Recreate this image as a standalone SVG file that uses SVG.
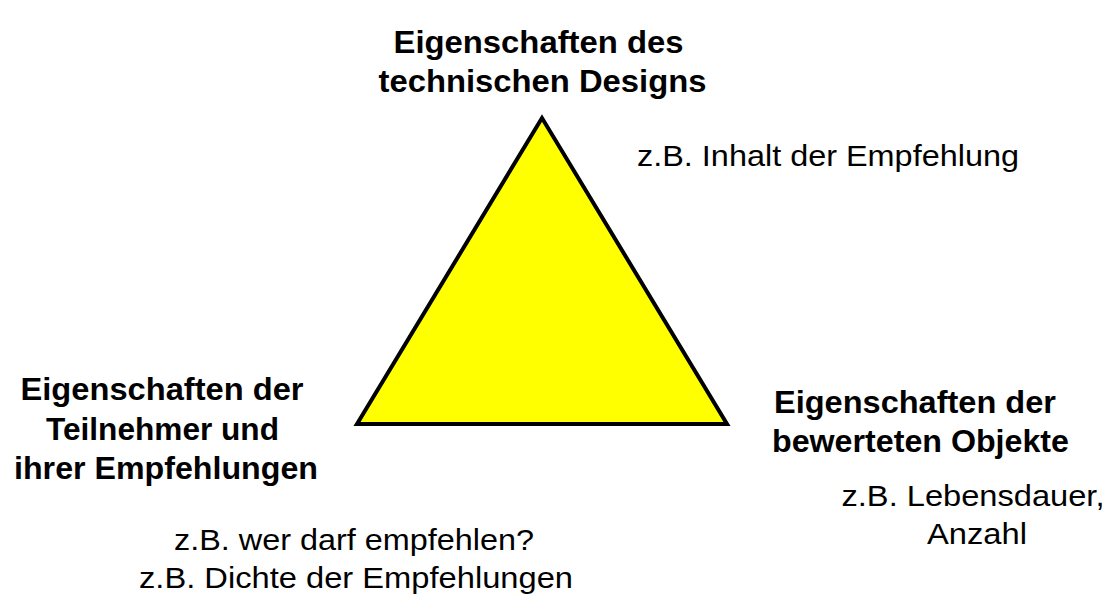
<svg xmlns="http://www.w3.org/2000/svg" width="1111" height="601" viewBox="0 0 1111 601">
<style>
.b{font-family:"Liberation Sans",Arial,sans-serif;font-weight:bold;font-size:31px;fill:#000;text-anchor:middle}
.r{font-family:"Liberation Sans",Arial,sans-serif;font-size:30px;fill:#000;text-anchor:middle}
.tri{fill:#FFFF00;stroke:#000;stroke-width:4;stroke-linejoin:miter}
</style>
<rect width="1111" height="601" fill="#fff"/>
<g id="triangle">
<polygon class="tri" points="542,118 357,424 727,424"/>
</g>
<g id="connectors"></g>
<g id="top">
<text class="b" x="538.5" y="53" textLength="290" lengthAdjust="spacingAndGlyphs">Eigenschaften des</text>
<text class="b" x="542.5" y="92" textLength="328" lengthAdjust="spacingAndGlyphs">technischen Designs</text>
<text class="r" x="828" y="166" textLength="382" lengthAdjust="spacingAndGlyphs">z.B. Inhalt der Empfehlung</text>
</g>
<g id="left">
<text class="b" x="162" y="400" textLength="283" lengthAdjust="spacingAndGlyphs">Eigenschaften der</text>
<text class="b" x="162.5" y="439.5" textLength="233" lengthAdjust="spacingAndGlyphs">Teilnehmer und</text>
<text class="b" x="166" y="479" textLength="304" lengthAdjust="spacingAndGlyphs">ihrer Empfehlungen</text>
<text class="r" x="354" y="550" textLength="360" lengthAdjust="spacingAndGlyphs">z.B. wer darf empfehlen?</text>
<text class="r" x="356" y="588" textLength="434" lengthAdjust="spacingAndGlyphs">z.B. Dichte der Empfehlungen</text>
</g>
<g id="right">
<text class="b" x="915" y="413" textLength="282" lengthAdjust="spacingAndGlyphs">Eigenschaften der</text>
<text class="b" x="920.5" y="452" textLength="297" lengthAdjust="spacingAndGlyphs">bewerteten Objekte</text>
<text class="r" x="973" y="506" textLength="263" lengthAdjust="spacingAndGlyphs">z.B. Lebensdauer,</text>
<text class="r" x="977" y="544" textLength="100" lengthAdjust="spacingAndGlyphs">Anzahl</text>
</g>
</svg>
